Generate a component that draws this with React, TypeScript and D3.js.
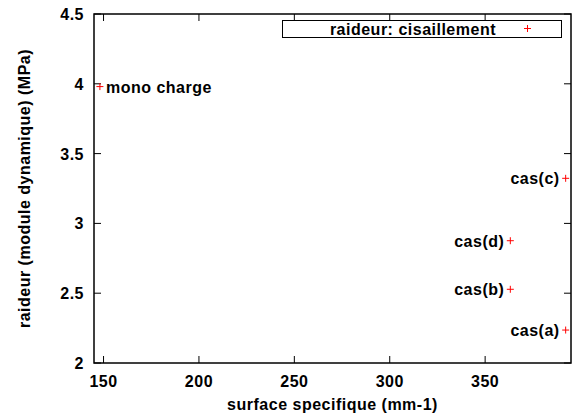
import React from "react";
import * as d3 from "d3";

const labels = ["mono charge", "cas(c)", "cas(d)", "cas(b)", "cas(a)"];
const xValues = [148.1, 392.2, 363.2, 363.2, 392.2];
const yValues = [3.98, 3.323, 2.876, 2.528, 2.236];
const labelSides = ["right", "left", "left", "left", "left"];
const xTicks = [150, 200, 250, 300, 350];
const yTicks = [2, 2.5, 3, 3.5, 4, 4.5];
const legendLabel = "raideur: cisaillement";

const W = 575, H = 418;
const m = { left: 94, right: 571, top: 14, bottom: 363 };
const FONT = "'Liberation Sans', Arial, Helvetica, sans-serif";

export default function App() {
  const x = d3.scaleLinear().domain([145, 395]).range([m.left, m.right]);
  const y = d3.scaleLinear().domain([2, 4.5]).range([m.bottom, m.top]);
  const tick = 7;
  const plus = (cx: number, cy: number, key: string) => (
    <g key={key} stroke="#ff0000" strokeWidth={1}>
      <line x1={cx - 3.5} x2={cx + 3.5} y1={cy} y2={cy} />
      <line x1={cx} x2={cx} y1={cy - 3.5} y2={cy + 3.5} />
    </g>
  );
  return (
    <svg width={W} height={H} style={{ position: "absolute", left: 0, top: 0, background: "#fff" }} fontFamily={FONT} fontWeight="bold" fontSize={16} letterSpacing={0.5}>
      <rect x={0} y={0} width={W} height={H} fill="#fff" />
      {xTicks.map((t) => (
        <g key={"xt" + t} stroke="#000" strokeWidth={1}>
          <line x1={x(t)} x2={x(t)} y1={m.bottom} y2={m.bottom - tick} />
          <line x1={x(t)} x2={x(t)} y1={m.top} y2={m.top + tick} />
        </g>
      ))}
      {yTicks.map((t) => (
        <g key={"yt" + t} stroke="#000" strokeWidth={1}>
          <line x1={m.left} x2={m.left + tick} y1={y(t)} y2={y(t)} />
          <line x1={m.right} x2={m.right - tick} y1={y(t)} y2={y(t)} />
        </g>
      ))}
      {xTicks.map((t) => (
        <text key={"xl" + t} x={x(t)} y={387} textAnchor="middle" fill="#000">{t}</text>
      ))}
      {yTicks.map((t) => (
        <text key={"yl" + t} x={84} y={y(t) + 6} textAnchor="end" fill="#000">{t}</text>
      ))}
      <rect x={282.5} y={20.5} width={279} height={17} fill="#fff" stroke="#000" strokeWidth={1} />
      <text x={496} y={35} textAnchor="end" fill="#000">{legendLabel}</text>
      {plus(527.5, 28.5, "leg")}
      {labels.map((l, i) => {
        const cx = x(xValues[i]);
        const cy = y(yValues[i]);
        const right = labelSides[i] === "right";
        return (
          <g key={"p" + i}>
            {plus(cx, cy, "pp" + i)}
            <text x={right ? cx + 6 : cx - 6} y={cy + 6} textAnchor={right ? "start" : "end"} fill="#000">{l}</text>
          </g>
        );
      })}
      <rect x={m.left} y={m.top} width={m.right - m.left} height={m.bottom - m.top} fill="none" stroke="#000" strokeWidth={1.5} />
      <text x={(m.left + m.right) / 2} y={410} textAnchor="middle" fill="#000">surface specifique (mm-1)</text>
      <text transform={`translate(30,${(m.top + m.bottom) / 2}) rotate(-90)`} textAnchor="middle" fill="#000">raideur (module dynamique) (MPa)</text>
    </svg>
  );
}
